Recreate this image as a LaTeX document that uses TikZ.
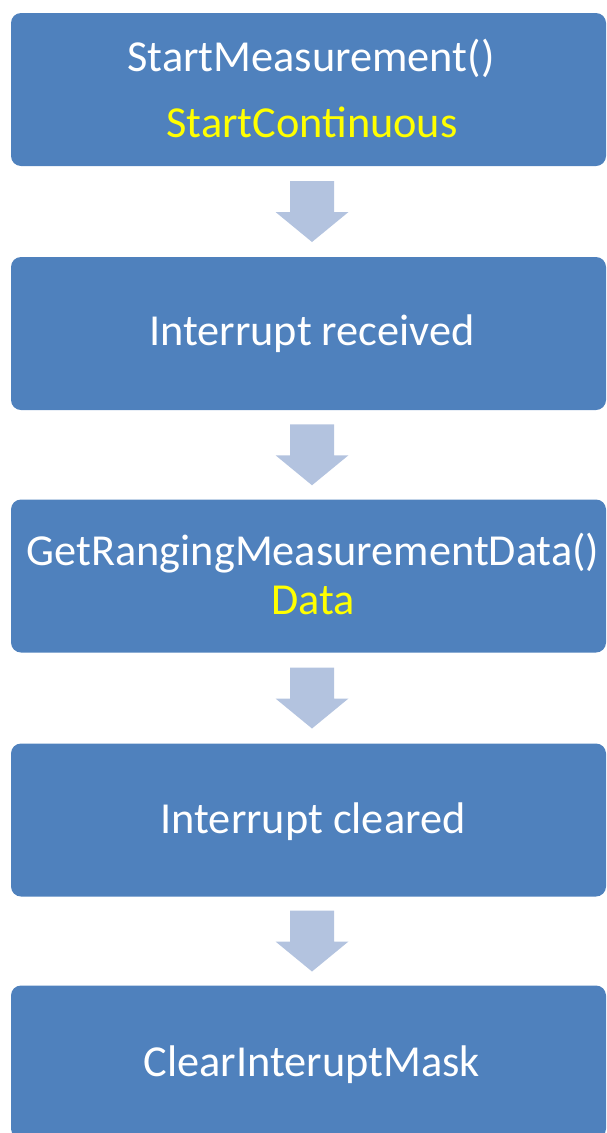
\documentclass[tikz,border=0pt]{standalone}
\usepackage{fontspec}
\setmainfont{Carlito}
\usetikzlibrary{calc}
\definecolor{boxblue}{HTML}{4F81BD}
\definecolor{arrowblue}{HTML}{B3C3DF}
\definecolor{txtyellow}{HTML}{FFFF00}
\begin{document}
\begin{tikzpicture}[x=1pt,y=-1pt,
  stepbox/.style={fill=boxblue, rounded corners=10pt, minimum width=595pt,
    minimum height=153pt, inner sep=0pt},
  steptext/.style={anchor=base, inner sep=0pt, text=white,
    font=\fontsize{44.3}{52}\selectfont},
  subtext/.style={steptext, text=txtyellow},
  flowarrow/.style={fill=arrowblue, draw=none}]
\useasboundingbox (0,0) rectangle (606,1133);
\node[stepbox] (b1) at (308.5,89.5) {};
\node[stepbox] (b2) at (308.5,333.5) {};
\node[stepbox] (b3) at (308.5,576) {};
\node[stepbox] (b4) at (308.5,820) {};
\node[stepbox] (b5) at (308.5,1062) {};
\node[steptext] (t1) at (311,71.5) {StartMeasurement()};
\node[subtext] (s1) at (312,137) {StartContinuous};
\node[steptext] (t2) at (312,345.5) {Interrupt received};
\node[steptext] (t3) at (313,565) {GetRangingMeasurementData()};
\node[subtext] (s3) at (313,614) {Data};
\node[steptext] (t4) at (313,833) {Interrupt cleared};
\node[steptext] (t5) at (312,1076) {ClearInteruptMask};
\foreach \a/\b in {b1/b2,b2/b3,b3/b4,b4/b5}{
  \coordinate (m) at ($(\a.south)!0.5!(\b.north)+(3.5,0)$);
  \fill[flowarrow] ($(m)+(-22,-30.5)$) -- ++(44,0) -- ++(0,31) -- ++(14.5,0)
    -- ++(-36.5,30) -- ++(-36.5,-30) -- ++(14.5,0) -- cycle;
}
\end{tikzpicture}
\end{document}
